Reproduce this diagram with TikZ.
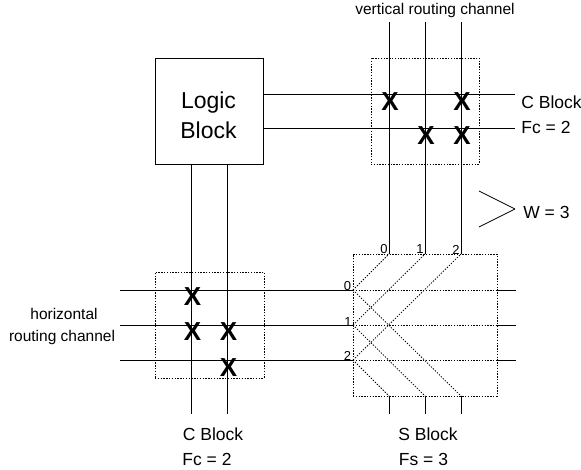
\documentclass[tikz,border=0pt]{standalone}
\usepackage{fontspec}
\setmainfont{Liberation Sans}

\begin{document}
\begin{tikzpicture}[x=1pt,y=-1pt,line width=0.75pt,dots/.style={dash pattern=on 1.4pt off 1.4pt}]

      \useasboundingbox (0,0) rectangle (581,469);

      % blocks
      \node (logic) [draw,minimum width=108.5pt,minimum height=106pt,inner sep=0pt] at (209.5,111) {};
      \node (logictext) [inner sep=0pt,align=center,font=\fontsize{23}{30}\selectfont] at (208.5,115.5) {Logic\\Block};
      \begin{scope}[every node/.style={draw,dots,inner sep=0pt}]
        \node (ctop) [minimum width=108pt,minimum height=106pt] at (425,111) {};
        \node (cbot) [minimum width=109pt,minimum height=106pt] at (209.5,325) {};
        \node (sbox) [minimum width=144pt,minimum height=142pt] at (425,325) {};
      \end{scope}

      % end points of the wires
      \coordinate (v0) at (389,22);
      \coordinate (v1) at (425,22);
      \coordinate (v2) at (461,22);
      \coordinate (st0) at (389,254);
      \coordinate (st1) at (425,254);
      \coordinate (st2) at (461,254);
      \coordinate (sb0) at (389,396);
      \coordinate (sb1) at (425,396);
      \coordinate (sb2) at (461,396);
      \coordinate (e0) at (389,414);
      \coordinate (e1) at (425,414);
      \coordinate (e2) at (461,414);

      \coordinate (h0) at (120,290);
      \coordinate (h1) at (120,325);
      \coordinate (h2) at (120,360);
      \coordinate (sl0) at (353,290);
      \coordinate (sl1) at (353,325);
      \coordinate (sl2) at (353,360);
      \coordinate (sr0) at (497,290);
      \coordinate (sr1) at (497,325);
      \coordinate (sr2) at (497,360);
      \coordinate (r0) at (516,290);
      \coordinate (r1) at (516,325);
      \coordinate (r2) at (516,360);

      \coordinate (la) at (263,94);
      \coordinate (lb) at (263,128);
      \coordinate (ra) at (515,94);
      \coordinate (rb) at (515,128);
      \coordinate (lc) at (191,164);
      \coordinate (ld) at (227,164);
      \coordinate (bc) at (191,414);
      \coordinate (bd) at (227,414);

      \coordinate (wa) at (479,191);
      \coordinate (wb) at (515,209);
      \coordinate (wc) at (479,227);

      \begin{scope}[every edge/.style={draw}]
        \path (v0) edge (st0);
        \path (v1) edge (st1);
        \path (v2) edge (st2);
        \path (sb0) edge (e0);
        \path (sb1) edge (e1);
        \path (sb2) edge (e2);
        \path (h0) edge (sl0);
        \path (h1) edge (sl1);
        \path (h2) edge (sl2);
        \path (sr0) edge (r0);
        \path (sr1) edge (r1);
        \path (sr2) edge (r2);
        \path (la) edge (ra);
        \path (lb) edge (rb);
        \path (lc) edge (bc);
        \path (ld) edge (bd);
        \path (wa) edge (wb);
        \path (wb) edge (wc);
      \end{scope}

      \begin{scope}[every edge/.style={draw,dots}]
        \path (sl0) edge (sr0);
        \path (sl1) edge (sr1);
        \path (sl2) edge (sr2);
        \path (sl0) edge (st0);
        \path (sl1) edge (st1);
        \path (sl2) edge (st2);
        \path (sl0) edge (sb2);
        \path (sl1) edge (sb1);
        \path (sl2) edge (sb0);
      \end{scope}

      % switches
      \begin{scope}[every node/.style={font=\fontsize{26}{26}\selectfont\bfseries,inner sep=0pt}]
        \node (xa) at (390,101.5) {X};
        \node (xb) at (462,101.5) {X};
        \node (xc) at (426,135.5) {X};
        \node (xd) at (462,135.5) {X};
        \node (xe) at (192.5,296.5) {X};
        \node (xf) at (192.5,331.5) {X};
        \node (xg) at (228.5,331.5) {X};
        \node (xh) at (228.5,367.5) {X};
      \end{scope}

      % wire numbers
      \begin{scope}[every node/.style={font=\fontsize{13}{13}\selectfont,inner sep=0pt}]
        \node (nt0) at (384,249.5) {0};
        \node (nt1) at (420,249.5) {1};
        \node (nt2) at (456,249.5) {2};
        \node (nl0) at (347.5,286) {0};
        \node (nl1) at (348,322) {1};
        \node (nl2) at (347.5,356) {2};
      \end{scope}

      \begin{scope}[every node/.style={font=\fontsize{15.5}{15.5}\selectfont,inner sep=0pt}]
        \node (vert) at (435,10.5) {vertical routing channel};
        \node (hora) at (64,314) {horizontal};
        \node (horb) at (62,337) {routing channel};
      \end{scope}

      \begin{scope}[every node/.style={font=\fontsize{17.5}{17.5}\selectfont,inner sep=0pt}]
        \node (ctopa) [anchor=west] at (521,102) {C Block};
        \node (ctopb) [anchor=west] at (521,127) {Fc = 2};
        \node (wlab) [anchor=west] at (523,212) {W = 3};
        \node (cbota) at (213,434) {C Block};
        \node (cbotb) at (207,459.5) {Fc = 2};
        \node (sbota) at (428,434) {S Block};
        \node (sbotb) at (423.5,459.5) {Fs = 3};
      \end{scope}

    \end{tikzpicture}
\end{document}
